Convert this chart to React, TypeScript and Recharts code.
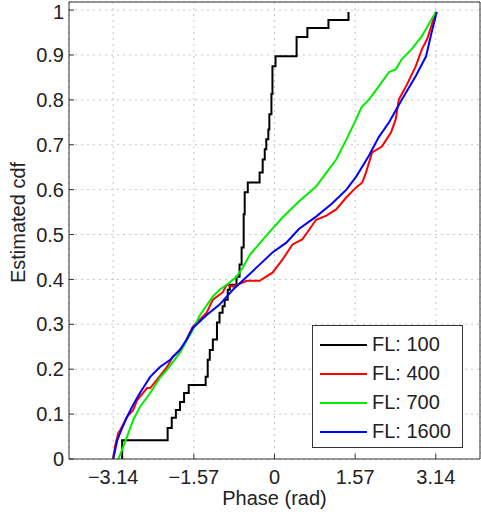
import { CartesianGrid, Label, Legend, Line, LineChart, XAxis, YAxis } from "recharts";

const xTicks = [-3.14, -1.57, 0, 1.57, 3.14];
const yTicks = [0, 0.1, 0.2, 0.3, 0.4, 0.5, 0.6, 0.7, 0.8, 0.9, 1];

// FL: 100 (stairs)
const fl100Phase = [-2.965, -2.965, -2.08, -2.0, -1.92, -1.84, -1.76, -1.67, -1.34, -1.3, -1.26, -1.2, -1.12, -1.07, -1.01, -0.97, -0.91, -0.87, -0.74, -0.68, -0.64, -0.6, -0.58, -0.52, -0.29, -0.23, -0.19, -0.16, -0.12, -0.1, -0.06, -0.04, 0.02, 0.43, 0.64, 1.05, 1.44];
const fl100Cdf = [0, 0.042, 0.069, 0.092, 0.109, 0.127, 0.147, 0.165, 0.183, 0.221, 0.243, 0.266, 0.304, 0.326, 0.34, 0.355, 0.377, 0.388, 0.406, 0.433, 0.471, 0.545, 0.594, 0.616, 0.638, 0.667, 0.69, 0.712, 0.734, 0.768, 0.813, 0.875, 0.897, 0.94, 0.96, 0.978, 0.996];

// FL: 400
const fl400Phase = [-3.14, -3.1, -3.04, -3.0, -2.87, -2.75, -2.67, -2.48, -2.42, -2.29, -2.09, -1.98, -1.78, -1.59, -1.32, -1.2, -1.01, -0.93, -0.81, -0.54, -0.29, -0.04, 0.155, 0.35, 0.54, 0.81, 1.01, 1.2, 1.4, 1.59, 1.71, 1.78, 1.9, 2.09, 2.27, 2.36, 2.42, 2.56, 2.75, 2.87, 2.97, 3.14];
const fl400Cdf = [0, 0.031, 0.058, 0.065, 0.094, 0.109, 0.132, 0.158, 0.158, 0.176, 0.205, 0.228, 0.25, 0.295, 0.326, 0.355, 0.371, 0.388, 0.384, 0.397, 0.397, 0.415, 0.444, 0.478, 0.489, 0.533, 0.542, 0.556, 0.583, 0.605, 0.616, 0.638, 0.683, 0.696, 0.728, 0.757, 0.801, 0.83, 0.875, 0.913, 0.935, 0.996];

// FL: 700
const fl700Phase = [-3.04, -2.97, -2.87, -2.75, -2.62, -2.42, -2.23, -2.09, -1.84, -1.59, -1.45, -1.2, -1.07, -0.93, -0.74, -0.62, -0.48, -0.155, 0.155, 0.48, 0.81, 1.01, 1.2, 1.4, 1.59, 1.69, 1.84, 2.03, 2.23, 2.36, 2.48, 2.67, 2.87, 3.14];
const fl700Cdf = [0, 0.02, 0.05, 0.087, 0.116, 0.147, 0.181, 0.199, 0.237, 0.288, 0.321, 0.362, 0.377, 0.388, 0.406, 0.426, 0.455, 0.498, 0.538, 0.574, 0.607, 0.638, 0.667, 0.712, 0.757, 0.783, 0.801, 0.83, 0.862, 0.868, 0.891, 0.913, 0.942, 0.996];

// FL: 1600
const fl1600Phase = [-3.14, -3.06, -3.0, -2.87, -2.75, -2.62, -2.42, -2.23, -2.03, -1.84, -1.71, -1.59, -1.32, -1.07, -0.81, -0.54, -0.29, -0.04, 0.23, 0.48, 0.81, 1.12, 1.4, 1.59, 1.84, 2.03, 2.23, 2.48, 2.75, 2.95, 3.06, 3.16];
const fl1600Cdf = [0, 0.042, 0.06, 0.094, 0.121, 0.147, 0.183, 0.205, 0.221, 0.243, 0.266, 0.292, 0.321, 0.344, 0.377, 0.406, 0.433, 0.46, 0.482, 0.513, 0.54, 0.569, 0.6, 0.629, 0.676, 0.717, 0.75, 0.801, 0.853, 0.897, 0.951, 0.996];

const font = "'Liberation Sans', Arial, Helvetica, sans-serif";
const ink = "#222";
const axisColor = "#333";

const toPoints = (phase: number[], cdf: number[]) => phase.map((x, i) => ({ x, y: cdf[i] }));

const series = [
  { name: "FL: 100", color: "#000000", data: toPoints(fl100Phase, fl100Cdf), step: true },
  { name: "FL: 400", color: "#ff0000", data: toPoints(fl400Phase, fl400Cdf), step: false },
  { name: "FL: 700", color: "#00ee00", data: toPoints(fl700Phase, fl700Cdf), step: false },
  { name: "FL: 1600", color: "#0000ff", data: toPoints(fl1600Phase, fl1600Cdf), step: false },
];

const fmtPhase = (v: number) => (v < 0 ? `\u2212${Math.abs(v)}` : `${v}`);

function LegendBox() {
  return (
    <div style={{ width: 151, boxSizing: "border-box", border: `1px solid ${axisColor}`, background: "#fff", padding: "4px 0 1px 7px", fontFamily: font, fontSize: 20, color: ink }}>
      {series.map((s) => (
        <div key={s.name} style={{ display: "flex", alignItems: "center", height: 29 }}>
          <span style={{ width: 47, height: 0, borderTop: `2px solid ${s.color}`, marginRight: 5 }} />
          <span>{s.name}</span>
        </div>
      ))}
    </div>
  );
}

export default function App() {
  return (
    <div style={{ position: "absolute", left: 0, top: 0, background: "#fff" }}>
      <LineChart width={481} height={517} margin={{ top: 2, right: 1, left: 0, bottom: 0 }}>
        <CartesianGrid stroke="#c4c4c4" strokeDasharray="2 4" />
        <XAxis
          dataKey="x"
          type="number"
          domain={[-4, 4]}
          ticks={xTicks}
          tickFormatter={fmtPhase}
          height={58}
          stroke={axisColor}
          tickSize={-5}
          tickMargin={16}
          tick={{ fill: ink, fontSize: 20, fontFamily: font }}
        >
          <Label value="Phase (rad)" position="insideBottom" offset={12} style={{ fill: ink, fontSize: 20, fontFamily: font }} />
        </XAxis>
        <XAxis xAxisId="top" orientation="top" type="number" domain={[-4, 4]} ticks={xTicks} height={1} mirror tick={false} tickSize={5} stroke={axisColor} />
        <YAxis
          type="number"
          domain={[0, 1.018]}
          ticks={yTicks}
          width={69}
          stroke={axisColor}
          tickSize={-5}
          tickMargin={10}
          tick={{ fill: ink, fontSize: 20, fontFamily: font }}
        >
          <Label
            content={({ viewBox }: any) => {
              const cx = viewBox.x + 18;
              const cy = viewBox.y + viewBox.height / 2 - 8;
              return (
                <text x={cx} y={cy} transform={`rotate(-90 ${cx} ${cy})`} textAnchor="middle" dominantBaseline="central" fill={ink} fontSize={20} fontFamily={font}>
                  Estimated cdf
                </text>
              );
            }}
          />
        </YAxis>
        <YAxis yAxisId="right" orientation="right" type="number" domain={[0, 1.018]} ticks={yTicks} width={1} mirror tick={false} tickSize={5} stroke={axisColor} />
        {series.map((s) => (
          <Line
            key={s.name}
            data={s.data}
            dataKey="y"
            name={s.name}
            type={s.step ? "stepAfter" : "linear"}
            stroke={s.color}
            strokeWidth={2}
            dot={false}
            isAnimationActive={false}
          />
        ))}
        <Legend layout="horizontal" verticalAlign="middle" align="center" wrapperStyle={{ left: 312, top: 325, width: 151 }} content={() => <LegendBox />} />
      </LineChart>
    </div>
  );
}
